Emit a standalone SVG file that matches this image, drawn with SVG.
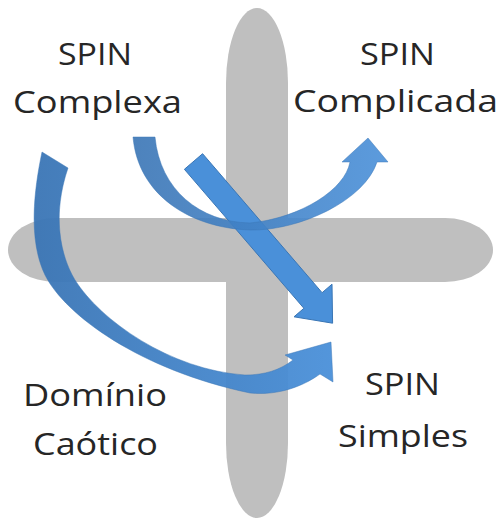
<svg xmlns="http://www.w3.org/2000/svg" width="501" height="522" viewBox="0 0 501 522">
<defs>
<style>
.bar{fill:#bfbfbf}
.lbl{font-family:"Open Sans","Liberation Sans",sans-serif;font-size:31px;fill:#262626}
.diag{fill:#4a90d9;stroke:#3a76b5;stroke-width:1}
.curve{stroke:#3a76b5;stroke-width:0.8;stroke-opacity:0.6}
</style>
<linearGradient id="g1" x1="0" y1="0" x2="1" y2="0">
<stop offset="0" stop-color="#3a75b5"/>
<stop offset="1" stop-color="#4a90d9"/>
</linearGradient>
</defs>
<rect width="501" height="522" fill="#ffffff"/>
<g id="cross">
<rect class="bar" x="226" y="8" width="62" height="510" rx="31" ry="75"/>
<rect class="bar" x="8" y="218" width="485" height="64" rx="48" ry="32"/>
</g>
<g id="connectors">
<polygon id="arrow-complexa-simples" class="diag" points="184.4,169.3 202.6,153.7 322.1,292.7 332,284.2 332.6,323.2 294,316.8 303.9,308.3"/>
<path id="arrow-complexa-complicada" class="curve" fill="url(#g1)" fill-opacity="0.9" d="M133,137 C138,195 190,228 250,230 C300,231 365,200 377,162 L388,162 L368,138 L342,162 L350,162 C345,190 300,218 250,223 C200,222 160,190 155,137 Z"/>
<path id="arrow-caotico-simples" class="curve" fill="url(#g1)" fill-opacity="0.95" d="M42,152 C34,190 28,240 45,275 C65,315 140,370 250,393 C280,396 305,385 320,374 L333,382 L331,342 L285,355 L293,360 C280,370 265,375 245,375 C170,370 100,320 75,280 C60,255 52,215 68,168 Z"/>
</g>
<g id="node-complexa">
<text class="lbl" x="58" y="65" textLength="74" lengthAdjust="spacingAndGlyphs">SPIN</text>
<text class="lbl" x="13" y="113" textLength="169" lengthAdjust="spacingAndGlyphs">Complexa</text>
</g>
<g id="node-complicada">
<text class="lbl" x="360" y="65" textLength="75" lengthAdjust="spacingAndGlyphs">SPIN</text>
<text class="lbl" x="293" y="112" textLength="205" lengthAdjust="spacingAndGlyphs">Complicada</text>
</g>
<g id="node-caotico">
<text class="lbl" x="23" y="406" textLength="144" lengthAdjust="spacingAndGlyphs">Domínio</text>
<text class="lbl" x="33" y="455" textLength="125" lengthAdjust="spacingAndGlyphs">Caótico</text>
</g>
<g id="node-simples">
<text class="lbl" x="365" y="395" textLength="75" lengthAdjust="spacingAndGlyphs">SPIN</text>
<text class="lbl" x="338" y="447" textLength="130" lengthAdjust="spacingAndGlyphs">Simples</text>
</g>
</svg>
